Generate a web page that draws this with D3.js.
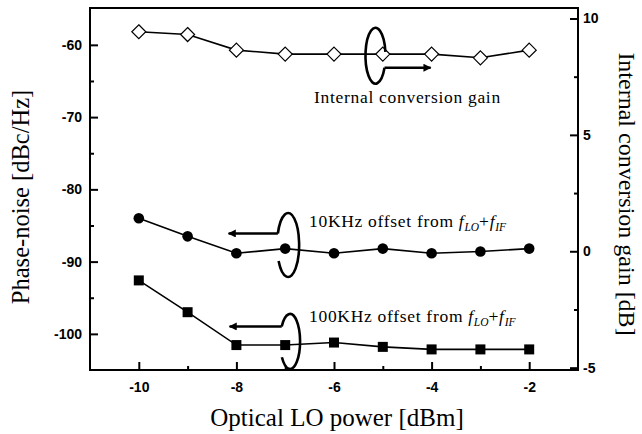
<!DOCTYPE html>
<html>
<head>
<meta charset="utf-8">
<script src="https://cdn.jsdelivr.net/npm/d3@7"></script>
<style>
  body { margin: 0; background: #fff; }
  svg { display: block; }
</style>
</head>
<body>
<div id="chart"></div>
<script>
// values
const loPower = [-10, -9, -8, -7, -6, -5, -4, -3, -2];
const gain = [9.43, 9.31, 8.64, 8.47, 8.47, 8.47, 8.47, 8.31, 8.64];
const noise10k = [-84.0, -86.5, -88.85, -88.2, -88.85, -88.2, -88.85, -88.6, -88.2];
const noise100k = [-92.6, -97.0, -101.55, -101.55, -101.2, -101.8, -102.15, -102.15, -102.15];

const xTicks = [-10, -8, -6, -4, -2];
const xMinor = [-9, -7, -5, -3];
const leftTicks = [-60, -70, -80, -90, -100];
const leftMinor = [-65, -75, -85, -95];
const rightTicks = [10, 5, 0, -5];
const rightMinor = [7.5, 2.5, -2.5];

const svgWidth = 642, svgHeight = 434;
const margin = { top: 8, right: 64, bottom: 64, left: 90 };
const width = svgWidth - margin.left - margin.right;
const height = svgHeight - margin.top - margin.bottom;

const serif = "'Liberation Serif', 'Times New Roman', serif";
const sans = "'Liberation Sans', Arial, sans-serif";

const svg = d3.select("#chart")
    .append("svg")
    .attr("width", svgWidth)
    .attr("height", svgHeight);

const g = svg.append("g")
    .attr("transform", `translate(${margin.left}, ${margin.top})`);

const x = d3.scaleLinear().domain([-11, -1]).range([0, width]);
const yL = d3.scaleLinear().domain([-105, -54.9]).range([height, 0]);
const yR = d3.scaleLinear().domain([-5.1, 10.45]).range([height, 0]);

// arrow head
svg.append("defs").append("marker")
    .attr("id", "head")
    .attr("markerUnits", "userSpaceOnUse")
    .attr("viewBox", "0 0 10 10")
    .attr("refX", 9).attr("refY", 5)
    .attr("markerWidth", 10).attr("markerHeight", 8)
    .attr("orient", "auto")
    .append("path")
    .attr("d", "M0,0 L10,5 L0,10 Z")
    .attr("fill", "#000");

function styleAxis(sel) {
    sel.select(".domain").remove();
    sel.selectAll("line").attr("stroke", "#000").attr("stroke-width", 2);
    sel.selectAll("text")
        .style("font-family", sans)
        .style("font-weight", "bold")
        .style("font-size", "14px")
        .attr("fill", "#000");
}
const fmt = d => String(d);

// bottom axis
g.append("g")
    .attr("transform", `translate(0, ${height})`)
    .call(d3.axisBottom(x).tickValues(xTicks).tickSize(-8).tickSizeOuter(0).tickPadding(12).tickFormat(fmt))
    .call(styleAxis);
g.append("g")
    .attr("transform", `translate(0, ${height})`)
    .call(d3.axisBottom(x).tickValues(xMinor).tickSize(-4).tickSizeOuter(0).tickFormat(""))
    .call(styleAxis);

// left axis
g.append("g")
    .call(d3.axisLeft(yL).tickValues(leftTicks).tickSize(-8).tickSizeOuter(0).tickPadding(8).tickFormat(fmt))
    .call(styleAxis);
g.append("g")
    .call(d3.axisLeft(yL).tickValues(leftMinor).tickSize(-4).tickSizeOuter(0).tickFormat(""))
    .call(styleAxis);

// right axis
g.append("g")
    .attr("transform", `translate(${width}, 0)`)
    .call(d3.axisRight(yR).tickValues(rightTicks).tickSize(-8).tickSizeOuter(0).tickPadding(5).tickFormat(fmt))
    .call(styleAxis);
g.append("g")
    .attr("transform", `translate(${width}, 0)`)
    .call(d3.axisRight(yR).tickValues(rightMinor).tickSize(-4).tickSizeOuter(0).tickFormat(""))
    .call(styleAxis);

// frame
g.append("rect")
    .attr("x", 0).attr("y", 0)
    .attr("width", width).attr("height", height)
    .attr("fill", "none")
    .attr("stroke", "#000")
    .attr("stroke-width", 2);

// series
const series = [
    { values: gain, y: yR, shape: "diamond" },
    { values: noise10k, y: yL, shape: "circle" },
    { values: noise100k, y: yL, shape: "square" }
];

series.forEach(s => {
    const pts = loPower.map((p, i) => [x(p), s.y(s.values[i])]);
    g.append("path")
        .attr("d", d3.line()(pts))
        .attr("fill", "none")
        .attr("stroke", "#000")
        .attr("stroke-width", 1.6);

    const marks = g.selectAll(null).data(pts).enter();
    if (s.shape === "circle") {
        marks.append("circle")
            .attr("cx", d => d[0]).attr("cy", d => d[1])
            .attr("r", 5.3).attr("fill", "#000");
    } else if (s.shape === "square") {
        marks.append("rect")
            .attr("x", d => d[0] - 5).attr("y", d => d[1] - 5)
            .attr("width", 10).attr("height", 10)
            .attr("fill", "#000");
    } else {
        marks.append("path")
            .attr("d", d => `M${d[0]},${d[1] - 7} L${d[0] + 7},${d[1]} L${d[0]},${d[1] + 7} L${d[0] - 7},${d[1]} Z`)
            .attr("fill", "#fff")
            .attr("stroke", "#000")
            .attr("stroke-width", 1.2);
    }
});

// open ellipse + arrow annotations
function loop(cx, cy, rx, ry, a0, a1, sweep) {
    const p = a => [cx + rx * Math.cos(a * Math.PI / 180), cy + ry * Math.sin(a * Math.PI / 180)];
    const s = p(a0), e = p(a1);
    g.append("path")
        .attr("d", `M${s[0]},${s[1]} A${rx},${ry} 0 1 ${sweep} ${e[0]},${e[1]}`)
        .attr("fill", "none")
        .attr("stroke", "#000")
        .attr("stroke-width", 2.6);
    return e;
}
function arrow(x0, y0, x1) {
    g.append("line")
        .attr("x1", x0).attr("y1", y0)
        .attr("x2", x1).attr("y2", y0)
        .attr("stroke", "#000")
        .attr("stroke-width", 2.6)
        .attr("marker-end", "url(#head)");
}

// gain -> right axis
{
    const cx = x(-5.15), cy = yR(8.4), rx = 10, ry = 28;
    const a = Math.asin(12 / ry) * 180 / Math.PI;
    const e = loop(cx, cy, rx, ry, -8, a, 0);
    arrow(e[0], e[1], x(-4.02));
}
// 10kHz -> left axis
{
    const cx = x(-6.94), cy = yL(-87.7), rx = 11, ry = 32;
    const dy = 11.5;
    const a = 180 + Math.asin(dy / ry) * 180 / Math.PI;
    loop(cx, cy, rx, ry, a, 150, 1);
    const sx = cx - rx * Math.cos(Math.asin(dy / ry));
    arrow(sx, cy - dy, x(-8.16));
}
// 100kHz -> left axis
{
    const cx = x(-6.9), cy = yL(-101.05), rx = 10, ry = 27.5;
    const dy = 15;
    const a = 180 + Math.asin(dy / ry) * 180 / Math.PI;
    loop(cx, cy, rx, ry, a, 145, 1);
    const sx = cx - rx * Math.cos(Math.asin(dy / ry));
    arrow(sx, cy - dy, x(-8.14));
}

const noteSize = "17.5px", noteSpacing = "0.7px";

function offsetLabel(txt, tx, ty) {
    const t = g.append("text")
        .attr("x", tx).attr("y", ty)
        .style("font-family", serif)
        .style("font-size", noteSize)
        .style("letter-spacing", noteSpacing)
        .attr("fill", "#000");
    t.append("tspan").text(txt + " ");
    t.append("tspan").style("font-style", "italic").text("f");
    t.append("tspan").style("font-style", "italic").style("font-size", "11.5px").style("letter-spacing", "0px").attr("dy", 3.5).text("LO");
    t.append("tspan").attr("dy", -3.5).text("+");
    t.append("tspan").style("font-style", "italic").text("f");
    t.append("tspan").style("font-style", "italic").style("font-size", "11.5px").style("letter-spacing", "0px").attr("dy", 3.5).text("IF");
}

g.append("text")
    .attr("x", 314 - margin.left).attr("y", 103 - margin.top)
    .style("font-family", serif)
    .style("font-size", noteSize)
    .style("letter-spacing", noteSpacing)
    .attr("fill", "#000")
    .text("Internal conversion gain");

offsetLabel("10KHz offset from", 309 - margin.left, 227 - margin.top);
offsetLabel("100KHz offset from", 309 - margin.left, 322 - margin.top);

// axis titles
svg.append("text")
    .attr("transform", `translate(29, 197) rotate(-90)`)
    .attr("text-anchor", "middle")
    .style("font-family", serif)
    .style("font-size", "24.5px")
    .text("Phase-noise [dBc/Hz]");

svg.append("text")
    .attr("transform", `translate(619, 194) rotate(90)`)
    .attr("text-anchor", "middle")
    .style("font-family", serif)
    .style("font-size", "24px")
    .text("Internal conversion gain [dB]");

svg.append("text")
    .attr("x", 337)
    .attr("y", 426)
    .attr("text-anchor", "middle")
    .style("font-family", serif)
    .style("font-size", "25px")
    .text("Optical LO power [dBm]");
</script>
</body>
</html>
